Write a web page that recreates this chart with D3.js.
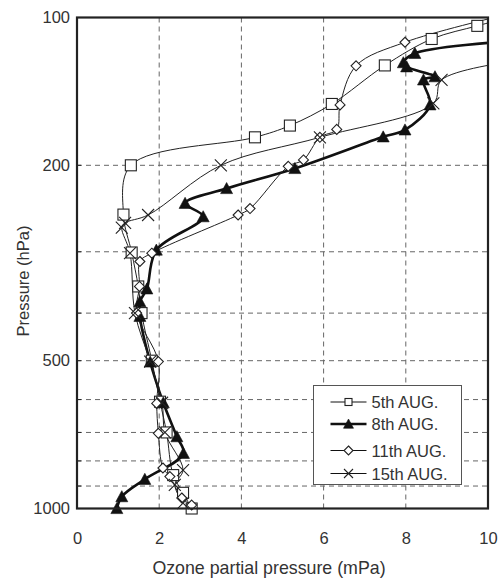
<!DOCTYPE html>
<html>
<head>
<meta charset="utf-8">
<script src="https://cdn.jsdelivr.net/npm/d3@7"></script>
<style>
  html, body { margin: 0; padding: 0; background: #fff; }
  svg { display: block; }
  text { font-family: "Liberation Sans", Arial, Helvetica, sans-serif; fill: #333; }
</style>
</head>
<body>
<svg id="chart" width="500" height="578"></svg>
<script>
// Ozone profiles: [ozone partial pressure (mPa), pressure (hPa)]
const aug5 = [
  [10.4, 100.5], [9.74, 104], [8.63, 110.6], [7.49, 125.2], [6.20, 150], [5.18, 166],
  [4.33, 175.4], [1.31, 200], [1.13, 252], [1.33, 301], [1.49, 353], [1.57, 400],
  [1.82, 500], [2.02, 606], [2.18, 700], [2.34, 855], [2.58, 929], [2.79, 1000]
];
const aug8 = [
  [10.4, 112], [8.22, 118.3], [7.94, 123.6], [8.02, 126], [8.71, 132], [8.43, 134],
  [8.59, 150.6], [7.98, 169.4], [7.45, 175], [5.30, 203], [3.64, 223], [2.63, 239],
  [3.07, 254.5], [1.93, 297.6], [1.70, 357], [1.53, 379], [1.53, 406], [1.78, 503],
  [2.10, 609], [2.43, 714], [2.59, 772], [1.65, 872], [1.09, 946], [0.97, 1000]
];
const aug11 = [
  [10.3, 99.3], [7.98, 112.3], [6.79, 125.4], [6.40, 150.7], [6.32, 169], [5.91, 175.4],
  [5.51, 195], [5.14, 201], [4.21, 245], [3.92, 252.5], [1.82, 302], [1.53, 314],
  [1.52, 353], [1.45, 400], [1.98, 502], [1.94, 611], [1.98, 703], [2.09, 827],
  [2.26, 861], [2.55, 952], [2.79, 984]
];
const aug15 = [
  [10.5, 123.2], [8.87, 134], [8.67, 149.6], [5.91, 175.4], [3.50, 200], [1.73, 252.5],
  [1.17, 262], [1.09, 268], [1.29, 302], [1.41, 400], [1.78, 502], [2.07, 609],
  [2.14, 700], [2.58, 835], [2.38, 895], [2.58, 975]
];

const seriesNames = ["5th AUG.", "8th AUG.", "11th AUG.", "15th AUG."];
const xTicks = [0, 2, 4, 6, 8, 10];
const yTicks = [100, 200, 500, 1000];
const yGrid = [200, 300, 400, 500, 600, 700, 800, 900];
const xGrid = [2, 4, 6, 8];

const svg = d3.select("#chart");
const plotL = 77, plotR = 488, plotT = 17.5, plotB = 508.5;

const x = d3.scaleLinear().domain([0, 10]).range([plotL, plotR]);
const y = d3.scaleLog().domain([100, 1000]).range([plotT, plotB]);

const ink = "#222";

// dashed grid
const grid = svg.append("g").attr("stroke", "#666").attr("stroke-width", 1)
  .attr("stroke-dasharray", "5,4");
grid.selectAll(".hg").data(yGrid).join("line")
  .attr("x1", plotL).attr("x2", plotR)
  .attr("y1", d => y(d)).attr("y2", d => y(d));
grid.selectAll(".vg").data(xGrid).join("line")
  .attr("y1", plotT).attr("y2", plotB)
  .attr("x1", d => x(d)).attr("x2", d => x(d));

// axes (labels only, frame drawn separately)
const xAxis = svg.append("g").attr("transform", `translate(0,${plotB})`)
  .call(d3.axisBottom(x).tickValues(xTicks).tickSize(0).tickPadding(24).tickFormat(d3.format("d")));
const yAxis = svg.append("g").attr("transform", `translate(${plotL},0)`)
  .call(d3.axisLeft(y).tickValues(yTicks).tickSize(0).tickPadding(7).tickFormat(d3.format("d")));
[xAxis, yAxis].forEach(a => {
  a.select(".domain").remove();
  a.selectAll("text").attr("font-size", 16.5).attr("fill", "#333")
    .attr("font-family", "'Liberation Sans', Arial, sans-serif");
});

// small ticks on the pressure axis
svg.append("g").selectAll("line").data(yGrid).join("line")
  .attr("x1", plotL).attr("x2", plotL + 4)
  .attr("y1", d => y(d)).attr("y2", d => y(d))
  .attr("stroke", ink).attr("stroke-width", 1);

// axis titles
svg.append("text").attr("x", 269).attr("y", 574)
  .attr("text-anchor", "middle").attr("font-size", 17.8)
  .text("Ozone partial pressure (mPa)");
svg.append("text").attr("transform", "translate(29,281) rotate(-90)")
  .attr("text-anchor", "middle").attr("font-size", 16.5)
  .text("Pressure (hPa)");

// clip for profile lines
svg.append("clipPath").attr("id", "plotClip").append("rect")
  .attr("x", plotL).attr("y", plotT).attr("width", plotR - plotL).attr("height", plotB - plotT);

const line = d3.line().x(d => x(d[0])).y(d => y(d[1])).curve(d3.curveCatmullRom.alpha(0.5));

const series = [
  { name: seriesNames[0], data: aug5, width: 1, marker: "square", size: 11 },
  { name: seriesNames[1], data: aug8, width: 2.6, marker: "triangle", size: 12 },
  { name: seriesNames[2], data: aug11, width: 1, marker: "diamond", size: 10 },
  { name: seriesNames[3], data: aug15, width: 1, marker: "cross", size: 12 }
];

function drawMarker(g, type, s) {
  const h = s / 2;
  if (type === "square") {
    g.append("rect").attr("x", -h).attr("y", -h).attr("width", s).attr("height", s)
      .attr("fill", "#fff").attr("stroke", ink).attr("stroke-width", 1.1);
  } else if (type === "triangle") {
    g.append("path").attr("d", `M0,${-h}L${h},${h * 0.85}L${-h},${h * 0.85}Z`)
      .attr("fill", "#111").attr("stroke", "#111").attr("stroke-width", 0.6);
  } else if (type === "diamond") {
    g.append("path").attr("d", `M0,${-h}L${h},0L0,${h}L${-h},0Z`)
      .attr("fill", "#fff").attr("stroke", ink).attr("stroke-width", 1.1);
  } else if (type === "cross") {
    g.append("path").attr("d", `M${-h},${-h}L${h},${h}M${h},${-h}L${-h},${h}`)
      .attr("fill", "none").attr("stroke", ink).attr("stroke-width", 1.1);
  }
}

series.forEach(sr => {
  svg.append("path").datum(sr.data).attr("clip-path", "url(#plotClip)")
    .attr("d", line).attr("fill", "none").attr("stroke", sr.marker === "triangle" ? "#111" : ink)
    .attr("stroke-width", sr.width).attr("stroke-linejoin", "round");
});
series.forEach(sr => {
  const pts = sr.data.filter(d => d[0] <= 10 && d[1] >= 100);
  svg.append("g").selectAll("g").data(pts).join("g")
    .attr("transform", d => `translate(${x(d[0])},${y(d[1])})`)
    .each(function () { drawMarker(d3.select(this), sr.marker, sr.size); });
});

// plot frame
svg.append("rect").attr("x", plotL).attr("y", plotT).attr("width", plotR - plotL).attr("height", plotB - plotT)
  .attr("fill", "none").attr("stroke", ink).attr("stroke-width", 2.2);

// legend
const lg = svg.append("g").attr("transform", "translate(313.5,385.5)");
lg.append("rect").attr("width", 148).attr("height", 99)
  .attr("fill", "#fff").attr("stroke", "#555").attr("stroke-width", 1);
const rowY = [16.5, 38.5, 65, 88];
series.forEach((sr, i) => {
  const r = lg.append("g").attr("transform", `translate(0,${rowY[i]})`);
  r.append("line").attr("x1", 17).attr("x2", 53).attr("y1", 0).attr("y2", 0)
    .attr("stroke", "#111").attr("stroke-width", sr.width);
  const m = r.append("g").attr("transform", "translate(35,0)");
  drawMarker(m, sr.marker, sr.marker === "square" ? 7 : sr.marker === "triangle" ? 10 : 9);
  r.append("text").attr("x", 58).attr("y", 6).attr("font-size", 16.5).text(sr.name);
});
</script>
</body>
</html>
